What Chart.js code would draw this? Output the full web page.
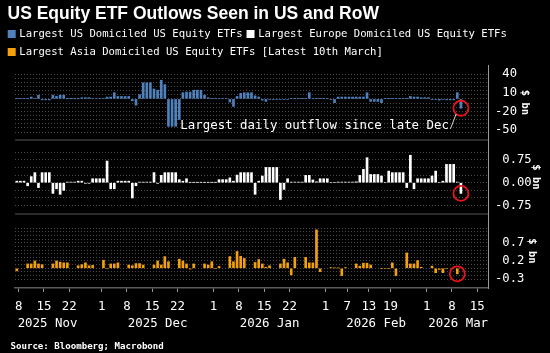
<!DOCTYPE html>
<html><head><meta charset="utf-8">
<script src="https://cdn.jsdelivr.net/npm/chart.js@4.4.1/dist/chart.umd.min.js"></script>
<style>html,body{margin:0;padding:0;background:#000;}canvas{display:block;}</style>
</head><body>
<canvas id="c" width="550" height="353"></canvas>
<script>
// ---------- DATA ----------
// One value per calendar day, starting 2025-11-07 (Fri). Rows are Mon..Sun weeks.
// US and Europe series are daily (weekend = last value shown), Asia is trading days only.
const firstDate = "2025-11-07";
// $ bn
const usDomiciled = [
                  0.5, 0.5, 0.5,
 0.5, 3, 1, 6, -1.5, -1.5, -1.5,
 6, 4, 6, 6, 0.3, 0.3, 0.3,
 0.3, 2, 2, 2, 1, 1, 1,
 1, 3, 3, 10, 4, 4, 4,
 4, -3, -10, 7, 26, 26, 26,
 16, 14, 30, 23, -44, -44, -44,
 -33, 10, 11, 11, 14, 14, 14,
 6, 2, 1, 1, 1, 1, 1,
 -5, -12, 4, 9, 10, 10, 10,
 5, 3, -2, -4, -1, -1, -1,
 -1, -1, -1, 0.5, 0.5, 0.5, 0.5,
 0.5, 10, 0.5, 0.5, 0.5, 0.5, 0.5,
 -1, -6, 3, 3, 3, 3, 3,
 3, 3, 3, 10, -4, -4, -4,
 -6, 0.5, 0.5, 0.5, 0.5, 0.5, 0.5,
 0.5, 4, 3, 3, 2, 2, 2,
 -1, -1, -2, -1, -1.5, -1.5, -1.5,
 10, -15
];
const europeDomiciled = [
                         0.05, 0.05, 0.05,
 -0.1, 0.2, 0.33, -0.16, 0.33, 0.33, 0.33,
 -0.35, -0.2, -0.38, -0.25, 0.02, 0.02, 0.02,
 0.05, 0.05, -0.02, -0.02, 0.13, 0.13, 0.13,
 0.13, 0.71, -0.2, -0.2, 0.05, 0.05, 0.05,
 0.05, -0.5, -0.1, 0.02, 0.02, 0.02, 0.02,
 0.33, -0.02, 0.24, 0.33, 0.33, 0.33, 0.33,
 0.1, 0.05, 0.13, 0.01, 0.01, 0.01, 0.01,
 0.01, 0.01, 0.01, 0.01, 0.1, 0.1, 0.1,
 0.16, 0.05, 0.25, 0.33, 0.33, 0.33, 0.33,
 -0.38, 0.05, 0.22, 0.5, 0.5, 0.5, 0.5,
 -0.55, -0.22, 0.13, 0.02, 0.02, 0.02, 0.02,
 0.24, 0.24, 0.09, 0.03, 0.13, 0.13, 0.13,
 0.0, 0.0, 0.02, 0.02, 0.02, 0.02, 0.02,
 0.03, 0.24, 0.44, 0.82, 0.27, 0.27, 0.27,
 0.22, 0.0, 0.38, 0.33, 0.33, 0.33, 0.33,
 -0.16, 0.9, -0.2, 0.13, 0.13, 0.13, 0.13,
 0.22, 0.38, 0.0, 0.05, 0.6, 0.6, 0.6,
 0.02, -0.35
];
const asiaDomiciled = [
                            -0.07, null, null,
 0.12, 0.12, 0.2, 0.12, 0.1, null, null,
 0.12, 0.2, 0.17, 0.15, 0.15, null, null,
 0.07, 0.1, 0.15, 0.07, 0.08, null, null,
 0.22, 0, 0.12, 0.12, 0.15, null, null,
 0.09, 0.07, 0.13, 0.13, 0.09, null, null,
 0.09, 0.2, 0.09, 0.32, 0.18, null, null,
 0.25, 0.2, 0.12, -0.02, 0.12, null, null,
 0.12, 0.09, 0.18, 0, 0.05, null, null,
 0.32, 0.18, 0.46, 0.33, 0.27, null, null,
 0.16, 0.24, 0.12, 0.03, 0.07, null, null,
 0.12, 0.25, 0.15, -0.18, 0.3, null, null,
 0.3, 0.15, 0.15, 1.05, -0.09, null, null,
 0.02, 0.01, 0.01, -0.2, 0.02, null, null,
 0.12, 0.06, 0.14, 0.14, 0.09, null, null,
 0, 0, 0, 0.15, -0.2, null, null,
 0.42, 0.12, 0.12, 0.21, 0.03, null, null,
 0.06, -0.12, -0.03, -0.12, 0, null, null,
 -0.15, null
];
const seriesLabels = [
 "Largest US Domiciled US Equity ETFs",
 "Largest Europe Domiciled US Equity ETFs",
 "Largest Asia Domiciled US Equity ETFs [Latest 10th March]"
];
const xTickDates = ["2025-11-08","2025-11-15","2025-11-22","2025-12-01","2025-12-08","2025-12-15","2025-12-22",
 "2026-01-01","2026-01-08","2026-01-15","2026-01-22","2026-02-01","2026-02-07","2026-02-13","2026-02-19",
 "2026-03-01","2026-03-08","2026-03-15"];
const monthLabels = ["2025 Nov","2025 Dec","2026 Jan","2026 Feb","2026 Mar"];
const monthLabelAt = ["2025-11-16T00","2025-12-16T12","2026-01-16T12","2026-02-15T00","2026-03-09T18"];
const xRange = ["2025-11-07","2026-03-18"];
// panel axes
const p1Grid = [-53.33,-46.67,-40,-33.33,-26.67,-20,-13.33,-6.67,0,6.67,13.33,20,26.67,33.33,40];
const p1Labels = [40,10,-20,-50];
const p2Grid = [-0.75,-0.5,-0.25,0,0.25,0.5,0.75,1.0];
const p2Labels = [0.75,0,-0.75];
const p3Grid = [-0.3,-0.2,-0.1,0,0.1,0.2,0.3,0.4,0.5,0.6,0.7,0.8,0.9,1.0,1.1];
const p3Labels = [0.7,0.2,-0.3];
const p1Range = [-66, 54.5], p2Range = [-1.026, 1.40], p3Range = [-0.538, 1.484];
const title = "US Equity ETF Outlows Seen in US and RoW";
const annotationText = "Largest daily outflow since late Dec";
const sourceText = "Source: Bloomberg; Macrobond";

// ---------- HELPERS ----------
const DAY = 86400000;
function dayNum(s){ const m = s.match(/(\d+)-(\d+)-(\d+)(?:T(\d+))?/); return Date.UTC(+m[1], +m[2]-1, +m[3], m[4]? +m[4]:0)/DAY; }
const near = (a,b) => Math.abs(a-b) < 1e-3;
const MONO = "'DejaVu Sans Mono', monospace";
const GRIDC = '#4a4a4a', AXISC = '#9a9a9a', SEPC = '#3a3a3a';
const COLORS = ['#4f81bd', '#ffffff', '#f2a00c'];
const day0 = dayNum(firstDate);

// bar centred on the middle of its calendar day
function pts(vals){ return vals.map((v,i)=>({x: day0 + i + 0.5, y: v})); }

function yAxis(grid, labels, range, dec, weight, titlePad){
  const all = Array.from(new Set(grid.concat(labels))).sort((a,b)=>a-b);
  return {
    type:'linear', position:'right', stack:'panels', stackWeight: weight,
    min: range[0], max: range[1], offset:false,
    afterBuildTicks: s => { s.ticks = all.map(v=>({value:v})); },
    afterFit: s => { s.width = 62; },
    grid: { drawTicks:false, lineWidth:1, offset:false,
      color: c => (c.tick && grid.some(g=>near(g,c.tick.value))) ? GRIDC : 'rgba(0,0,0,0)' },
    border: { display:true, color:AXISC, width:1, dash:[1,2] },
    ticks: { autoSkip:false, padding:7, color:'#ffffff', font:{family:MONO, size:12.2},
      callback: v => { if (!labels.some(l=>near(l,v))) return ''; const t = v.toFixed(dec); return v < -1e-9 ? t : ' '+t; } },
    title: { display:true, text:'$ bn', color:'#ffffff', font:{family:MONO, size:10.5, weight:'bold'}, padding:{top:titlePad, bottom:0} }
  };
}

const overlay = {
  id:'overlay',
  beforeDatasetsDraw(chart){
    const {ctx, chartArea, scales} = chart;
    ctx.save(); ctx.strokeStyle = SEPC; ctx.lineWidth = 1.5;
    [scales.y1.bottom, scales.y2.bottom].forEach(y=>{ ctx.beginPath(); ctx.moveTo(chartArea.left, y); ctx.lineTo(chartArea.right, y); ctx.stroke(); });
    ctx.restore();
  },
  afterDraw(chart){
    const {ctx, scales} = chart;
    ctx.save();
    // title
    ctx.fillStyle = '#ffffff'; ctx.textBaseline = 'alphabetic'; ctx.textAlign = 'left';
    ctx.font = "bold 17.5px 'Liberation Sans', Arial, sans-serif";
    ctx.fillText(title, 7.5, 18.8);
    // legend
    ctx.font = "10.6px " + MONO; ctx.textBaseline = 'middle';
    let lx = 7.7, ly = 34;
    chart.data.datasets.forEach((ds,i)=>{
      const w = 11.6 + ctx.measureText(ds.label).width;
      if (lx + w > 545) { lx = 7.7; ly += 18; }
      ctx.fillStyle = ds.backgroundColor; ctx.fillRect(lx, ly-4, 8, 8);
      ctx.fillStyle = '#ffffff'; ctx.fillText(ds.label, lx+11.6, ly+0.5);
      lx += w + 4;
    });
    // red circles on latest values
    const axes = ['y1','y2','y3'];
    const circ = [];
    chart.data.datasets.forEach((ds,i)=>{
      let k = ds.data.length-1; while (k>=0 && ds.data[k].y==null) k--;
      const cx = scales.x.getPixelForValue(ds.data[k].x), cy = scales[axes[i]].getPixelForValue(ds.data[k].y);
      circ.push([cx,cy]);
      ctx.beginPath(); ctx.arc(cx, cy, 7.5, 0, Math.PI*2); ctx.strokeStyle = '#e8141c'; ctx.lineWidth = 1.8; ctx.stroke();
    });
    // annotation in panel 1
    ctx.font = "12.4px " + MONO; ctx.fillStyle = '#ffffff'; ctx.textAlign = 'right'; ctx.textBaseline = 'middle';
    const tx = circ[0][0] - 12, ty = scales.y1.getPixelForValue(-43.5);
    ctx.fillText(annotationText, tx, ty);
    ctx.beginPath(); ctx.moveTo(tx+1.5, ty+3); ctx.lineTo(circ[0][0]-7.5*0.64, circ[0][1]+7.5*0.77);
    ctx.strokeStyle = '#d0d0d0'; ctx.lineWidth = 1; ctx.stroke();
    // source
    ctx.textAlign = 'left'; ctx.font = "bold 9.1px " + MONO; ctx.fillStyle = '#ffffff';
    ctx.fillText(sourceText, 10.5, 346.4);
    ctx.restore();
  }
};

const barOpts = { grouped:false, maxBarThickness:2, barPercentage:1, categoryPercentage:1, borderWidth:0 };

new Chart(document.getElementById('c'), {
  type:'bar',
  data:{ datasets:[
    Object.assign({label:seriesLabels[0], data:pts(usDomiciled), backgroundColor:COLORS[0], yAxisID:'y1'}, barOpts),
    Object.assign({label:seriesLabels[1], data:pts(europeDomiciled), backgroundColor:COLORS[1], yAxisID:'y2'}, barOpts),
    Object.assign({label:seriesLabels[2], data:pts(asiaDomiciled), backgroundColor:COLORS[2], yAxisID:'y3'}, barOpts)
  ]},
  options:{
    responsive:false, animation:false, devicePixelRatio:1,
    layout:{ padding:{ top:65, left:15, right:0, bottom:21 } },
    plugins:{ legend:{display:false}, title:{display:false}, tooltip:{enabled:false} },
    scales:{
      x:{ type:'linear', position:'bottom', offset:false, min:dayNum(xRange[0]), max:dayNum(xRange[1]),
        afterBuildTicks: s => { s.ticks = xTickDates.map(d=>({value:dayNum(d)})); },
        afterFit: s => { s.height = 24; },
        grid:{ offset:false, drawOnChartArea:false, drawTicks:true, tickLength:4, tickColor:AXISC, tickWidth:1 },
        border:{ display:true, color:'#5a5a5a', width:1.5 },
        ticks:{ autoSkip:false, maxRotation:0, padding:7, color:'#ffffff', font:{family:MONO, size:12.4},
          callback: v => String(new Date(v*DAY).getUTCDate()) } },
      x2:{ type:'linear', position:'bottom', offset:false, min:dayNum(xRange[0]), max:dayNum(xRange[1]),
        afterBuildTicks: s => { s.ticks = monthLabelAt.map(d=>({value:dayNum(d)})); },
        afterFit: s => { s.height = 20; },
        grid:{ display:false, drawTicks:false, offset:false }, border:{ display:false },
        ticks:{ autoSkip:false, maxRotation:0, padding:4.2, color:'#ffffff', font:{family:MONO, size:12.4},
          callback: (v,i) => monthLabels[i] } },
      y1: yAxis(p1Grid, p1Labels, p1Range, 0, 75, 19.2),
      y2: yAxis(p2Grid, p2Labels, p2Range, 2, 74, 7.9),
      y3: yAxis(p3Grid, p3Labels, p3Range, 1, 74, 11.7)
    }
  },
  plugins:[overlay]
});
</script>
</body></html>
